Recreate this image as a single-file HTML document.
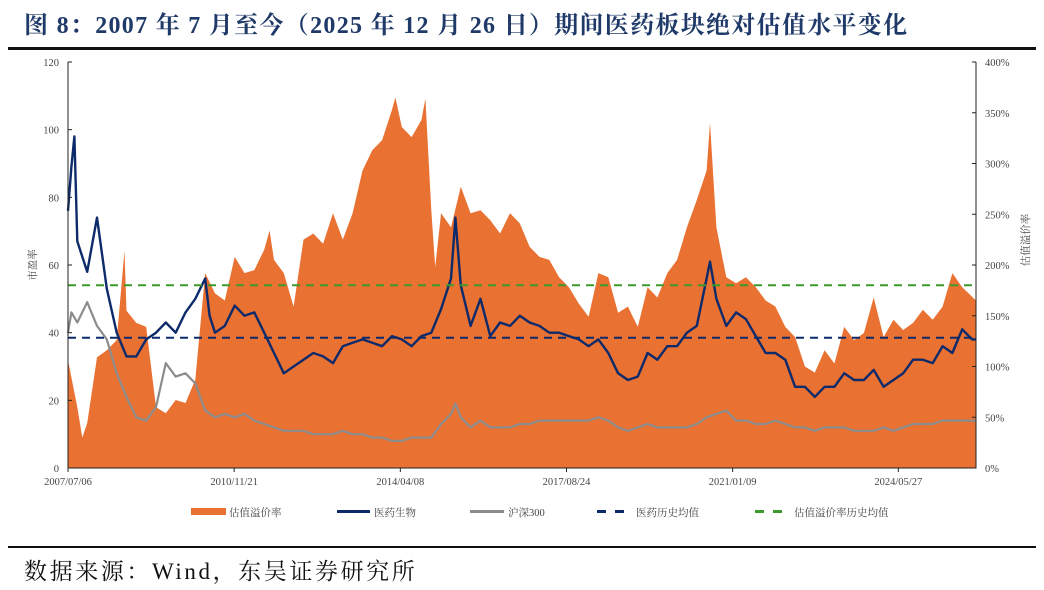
<!DOCTYPE html>
<html><head><meta charset="utf-8">
<style>
body{margin:0;background:#fff;width:1044px;height:590px;overflow:hidden;font-family:"Liberation Serif","Noto Serif CJK SC",serif;}
#title{position:absolute;left:24px;top:5px;font-size:24px;letter-spacing:1.3px;font-weight:bold;color:#1f3a68;font-family:"Liberation Serif","Noto Serif CJK SC",serif;white-space:nowrap}
#rule-top{position:absolute;left:8px;top:47px;width:1028px;height:3px;background:#111}
#rule-bot{position:absolute;left:8px;top:546px;width:1028px;height:2px;background:#111}
#source{position:absolute;left:24px;top:553px;font-size:23px;letter-spacing:2.6px;color:#111;white-space:nowrap}
svg{position:absolute;left:0;top:0}
svg text{font-family:"Liberation Serif","Noto Serif CJK SC",serif;fill:#444;font-size:10.5px}
</style></head><body>
<div id="title">图 8：2007 年 7 月至今（2025 年 12 月 26 日）期间医药板块绝对估值水平变化</div>
<div id="rule-top"></div>
<svg id="chart" width="1044" height="590"></svg>
<div id="rule-bot"></div>
<div id="source">数据来源：Wind，东吴证券研究所</div>
<script>
const leftTicks=[0,20,40,60,80,100,120];
const rightTicks=["0%","50%","100%","150%","200%","250%","300%","350%","400%"];
const xTickLabels=["2007/07/06","2010/11/21","2014/04/08","2017/08/24","2021/01/09","2024/05/27"];
const xTickYears=[2007.51,2010.89,2014.27,2017.65,2021.03,2024.40];
const peMean=38.5;
const premiumMean=180;
const premiumSeries=[[2007.51,106],[2007.7,60],[2007.8,30],[2007.9,44],[2008.1,109],[2008.3,116],[2008.5,126],[2008.66,214],[2008.7,155],[2008.9,143],[2009.1,139],[2009.3,60],[2009.5,54],[2009.7,67],[2009.9,64],[2010.1,87],[2010.3,192],[2010.5,172],[2010.7,165],[2010.9,208],[2011.1,192],[2011.3,195],[2011.5,215],[2011.61,234],[2011.7,205],[2011.9,192],[2012.1,159],[2012.3,225],[2012.5,231],[2012.7,221],[2012.9,251],[2013.1,225],[2013.3,251],[2013.5,293],[2013.7,313],[2013.9,323],[2014.1,353],[2014.17,365],[2014.3,336],[2014.5,326],[2014.7,343],[2014.78,364],[2014.9,254],[2014.98,198],[2015.1,251],[2015.3,237],[2015.5,277],[2015.7,251],[2015.9,254],[2016.1,244],[2016.3,231],[2016.5,251],[2016.7,241],[2016.9,218],[2017.1,208],[2017.3,205],[2017.5,188],[2017.7,178],[2017.9,162],[2018.1,149],[2018.3,192],[2018.5,188],[2018.7,153],[2018.9,159],[2019.1,139],[2019.3,178],[2019.5,168],[2019.7,192],[2019.9,205],[2020.1,237],[2020.3,264],[2020.5,293],[2020.57,340],[2020.7,237],[2020.9,188],[2021.1,182],[2021.3,188],[2021.5,178],[2021.7,165],[2021.9,159],[2022.1,139],[2022.3,129],[2022.5,100],[2022.7,94],[2022.9,116],[2023.1,103],[2023.3,139],[2023.5,126],[2023.7,133],[2023.9,168],[2024.1,129],[2024.3,146],[2024.5,136],[2024.7,143],[2024.9,156],[2025.1,146],[2025.3,159],[2025.5,192],[2025.7,178],[2025.98,165]];
const peSeries=[[2007.51,76],[2007.58,89],[2007.64,98],[2007.7,67],[2007.9,58],[2008.1,74],[2008.3,53],[2008.5,40],[2008.7,33],[2008.9,33],[2009.1,38],[2009.3,40],[2009.5,43],[2009.7,40],[2009.9,46],[2010.1,50],[2010.3,56],[2010.39,45],[2010.5,40],[2010.7,42],[2010.9,48],[2011.1,45],[2011.3,46],[2011.5,40],[2011.7,34],[2011.9,28],[2012.1,30],[2012.3,32],[2012.5,34],[2012.7,33],[2012.9,31],[2013.1,36],[2013.3,37],[2013.5,38],[2013.7,37],[2013.9,36],[2014.1,39],[2014.3,38],[2014.5,36],[2014.7,39],[2014.9,40],[2015.1,47],[2015.3,56],[2015.39,74],[2015.5,54],[2015.7,42],[2015.9,50],[2016.1,39],[2016.3,43],[2016.5,42],[2016.7,45],[2016.9,43],[2017.1,42],[2017.3,40],[2017.5,40],[2017.7,39],[2017.9,38],[2018.1,36],[2018.3,38],[2018.5,34],[2018.7,28],[2018.9,26],[2019.1,27],[2019.3,34],[2019.5,32],[2019.7,36],[2019.9,36],[2020.1,40],[2020.3,42],[2020.5,56],[2020.57,61],[2020.7,50],[2020.9,42],[2021.1,46],[2021.3,44],[2021.5,39],[2021.7,34],[2021.9,34],[2022.1,32],[2022.3,24],[2022.5,24],[2022.7,21],[2022.9,24],[2023.1,24],[2023.3,28],[2023.5,26],[2023.7,26],[2023.9,29],[2024.1,24],[2024.3,26],[2024.5,28],[2024.7,32],[2024.9,32],[2025.1,31],[2025.3,36],[2025.5,34],[2025.7,41],[2025.9,38],[2025.98,38]];
const hs300Series=[[2007.51,40],[2007.58,46],[2007.7,43],[2007.9,49],[2008.1,42],[2008.3,38],[2008.5,28],[2008.7,21],[2008.9,15],[2009.1,14],[2009.3,18],[2009.5,31],[2009.7,27],[2009.9,28],[2010.1,25],[2010.3,17],[2010.5,15],[2010.7,16],[2010.9,15],[2011.1,16],[2011.3,14],[2011.5,13],[2011.7,12],[2011.9,11],[2012.1,11],[2012.3,11],[2012.5,10],[2012.7,10],[2012.9,10],[2013.1,11],[2013.3,10],[2013.5,10],[2013.7,9],[2013.9,9],[2014.1,8],[2014.3,8],[2014.5,9],[2014.7,9],[2014.9,9],[2015.1,13],[2015.3,16],[2015.39,19],[2015.5,15],[2015.7,12],[2015.9,14],[2016.1,12],[2016.3,12],[2016.5,12],[2016.7,13],[2016.9,13],[2017.1,14],[2017.3,14],[2017.5,14],[2017.7,14],[2017.9,14],[2018.1,14],[2018.3,15],[2018.5,14],[2018.7,12],[2018.9,11],[2019.1,12],[2019.3,13],[2019.5,12],[2019.7,12],[2019.9,12],[2020.1,12],[2020.3,13],[2020.5,15],[2020.7,16],[2020.9,17],[2021.1,14],[2021.3,14],[2021.5,13],[2021.7,13],[2021.9,14],[2022.1,13],[2022.3,12],[2022.5,12],[2022.7,11],[2022.9,12],[2023.1,12],[2023.3,12],[2023.5,11],[2023.7,11],[2023.9,11],[2024.1,12],[2024.3,11],[2024.5,12],[2024.7,13],[2024.9,13],[2025.1,13],[2025.3,14],[2025.5,14],[2025.7,14],[2025.98,14]];

const NS='http://www.w3.org/2000/svg';
const svg=document.getElementById('chart');
const X0=68,X1=976,Y0=468,Y1=62,T0=2007.51,T1=2025.98;
const xs=t=>X0+(t-T0)*(X1-X0)/(T1-T0);
const yL=v=>Y0-v*(Y0-Y1)/120;
const yR=v=>Y0-v*(Y0-Y1)/400;
function mk(tag,attrs){const e=document.createElementNS(NS,tag);for(const k in attrs)e.setAttribute(k,attrs[k]);svg.appendChild(e);return e;}

let d='M'+xs(premiumSeries[0][0])+','+Y0;
premiumSeries.forEach(p=>{d+=' L'+xs(p[0]).toFixed(1)+','+yR(p[1]).toFixed(1);});
d+=' L'+xs(premiumSeries[premiumSeries.length-1][0])+','+Y0+' Z';
const area=mk('path',{d:d,fill:'#e97132'});



function line(series,color,w,name){
  const pts=series.map(p=>xs(p[0]).toFixed(1)+','+yL(p[1]).toFixed(1)).join(' ');
  const e=mk('polyline',{points:pts,fill:'none',stroke:color,'stroke-width':w,'stroke-linejoin':'round'});
  
  
}
line(hs300Series,'#8c8c8c',2.2,'hs300-line');
line(peSeries,'#0d2a6b',2.4,'pharma-pe-line');

const m1=mk('line',{x1:X0,x2:X1,y1:yL(peMean),y2:yL(peMean),stroke:'#0d2a6b','stroke-width':2,'stroke-dasharray':'8,6'});


const m2=mk('line',{x1:X0,x2:X1,y1:yR(premiumMean),y2:yR(premiumMean),stroke:'#3d9a2a','stroke-width':2,'stroke-dasharray':'8,6'});



const ax=mk('path',{d:`M${X0},${Y1} V${Y0} H${X1} V${Y1}`,fill:'none',stroke:'#222','stroke-width':1});


leftTicks.forEach(v=>{
  mk('line',{x1:X0,x2:X0+4,y1:yL(v),y2:yL(v),stroke:'#222'});
  const t=mk('text',{x:X0-9,y:yL(v)+4,'text-anchor':'end'});t.textContent=v;
  
  
});
rightTicks.forEach((s,i)=>{
  const v=i*50;
  mk('line',{x1:X1-4,x2:X1,y1:yR(v),y2:yR(v),stroke:'#222'});
  const t=mk('text',{x:X1+9,y:yR(v)+4,'text-anchor':'start'});t.textContent=s;
  
  
});
xTickLabels.forEach((s,i)=>{
  const x=xs(xTickYears[i]);
  mk('line',{x1:x,x2:x,y1:Y0,y2:Y0+4,stroke:'#222'});
  const t=mk('text',{x:x,y:485,'text-anchor':'middle'});t.textContent=s;
  
  
});
const lt=mk('text',{x:0,y:0,transform:'translate(36,265) rotate(-90)','text-anchor':'middle','font-size':'12'});lt.textContent='市盈率';


const rt=mk('text',{x:0,y:0,transform:'translate(1029,240) rotate(-90)','text-anchor':'middle','font-size':'13'});rt.textContent='估值溢价率';



const legend=[
 {label:'估值溢价率',type:'rect',color:'#e97132',x:191,w:35,tx:229},
 {label:'医药生物',type:'solid',color:'#0d2a6b',x:337,w:33,tx:374},
 {label:'沪深300',type:'solid',color:'#8c8c8c',x:470,w:34,tx:508},
 {label:'医药历史均值',type:'dash',color:'#0d2a6b',x:597,w:27,tx:636},
 {label:'估值溢价率历史均值',type:'dash',color:'#3d9a2a',x:755,w:27,tx:794}
];
legend.forEach(l=>{
  const g=document.createElementNS(NS,'g');svg.appendChild(g);
  
  
  let s;
  if(l.type==='rect'){s=document.createElementNS(NS,'rect');s.setAttribute('x',l.x);s.setAttribute('y',508);s.setAttribute('width',l.w);s.setAttribute('height',7);s.setAttribute('fill',l.color);}
  else{s=document.createElementNS(NS,'line');s.setAttribute('x1',l.x);s.setAttribute('x2',l.x+l.w);s.setAttribute('y1',511.5);s.setAttribute('y2',511.5);s.setAttribute('stroke',l.color);s.setAttribute('stroke-width',3);if(l.type==='dash')s.setAttribute('stroke-dasharray','9,9');}
  g.appendChild(s);
  const t=document.createElementNS(NS,'text');t.setAttribute('x',l.tx);t.setAttribute('y',516);t.setAttribute('font-size','12');t.textContent=l.label;g.appendChild(t);
});
</script>
</body></html>
